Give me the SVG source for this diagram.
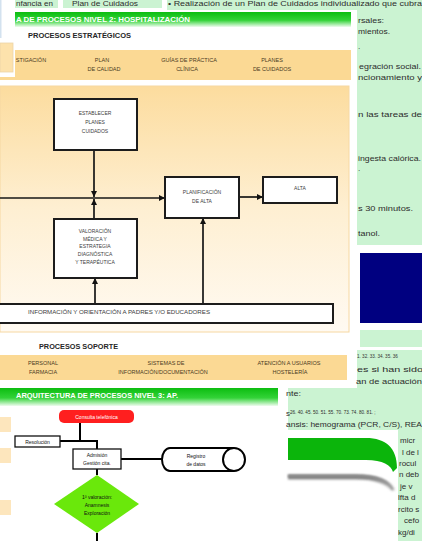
<svg xmlns="http://www.w3.org/2000/svg" width="422" height="541" viewBox="0 0 422 541">
<defs>
  <linearGradient id="hdr" x1="0" y1="0" x2="0" y2="1">
    <stop offset="0" stop-color="#0cbd10"/>
    <stop offset="0.55" stop-color="#33d338"/>
    <stop offset="1" stop-color="#effcef"/>
  </linearGradient>
  <linearGradient id="panel" x1="0" y1="0" x2="0" y2="1">
    <stop offset="0" stop-color="#fcdc9e"/>
    <stop offset="0.5" stop-color="#feefd2"/>
    <stop offset="1" stop-color="#fffaf2"/>
  </linearGradient>
  <linearGradient id="shade" x1="0" y1="0" x2="0" y2="1">
    <stop offset="0" stop-color="#7d7d7d"/>
    <stop offset="1" stop-color="#ffffff"/>
  </linearGradient>
  <filter id="soft" x="-10%" y="-50%" width="120%" height="200%">
    <feGaussianBlur stdDeviation="1.2"/>
  </filter>
  <marker id="ah" viewBox="0 0 8 8" refX="8" refY="4" markerWidth="6" markerHeight="6" orient="auto" markerUnits="userSpaceOnUse">
    <path d="M0,0 L8,4 L0,8 Z" fill="#111"/>
  </marker>
  <style>
    .sans{font-family:"Liberation Sans",Arial,sans-serif}
    .col{font-family:"Liberation Sans",Arial,sans-serif;font-size:8px;fill:#2c2c2c}
    .mint{fill:#cbf3d2}
    .band{fill:#fbd994}
    .box{fill:#fff;stroke:#1c1c1c;stroke-width:2}
    .lbl{font-family:"Liberation Sans",Arial,sans-serif;font-size:5px;fill:#3c3c3c;text-anchor:middle}
    .blbl{font-family:"Liberation Sans",Arial,sans-serif;font-size:5.5px;fill:#4a3a1e;text-anchor:middle}
    .wire{stroke:#161616;stroke-width:1.7;fill:none}
    .fwire{stroke:#000;stroke-width:2;fill:none}
    .fbox{fill:#fff;stroke:#111;stroke-width:1.3}
    .flbl{font-family:"Liberation Sans",Arial,sans-serif;font-size:5px;fill:#111;text-anchor:middle}
    .head{font-family:"Liberation Sans",Arial,sans-serif;font-weight:bold;fill:#fff}
  </style>
</defs>

<!-- page background and mint text areas -->
<rect x="0" y="0" width="422" height="541" fill="#fff"/>
<rect class="mint" x="15" y="0" width="43" height="8"/>
<rect class="mint" x="63" y="0" width="99" height="8"/>
<rect class="mint" x="167" y="0" width="255" height="10"/>
<rect class="mint" x="357" y="0" width="65" height="245"/>
<rect x="360" y="253" width="62" height="70" fill="#000080"/>
<rect class="mint" x="360" y="330" width="62" height="17"/>
<path class="mint" d="M357,350 H422 V541 H288 V388 H357 Z"/>

<!-- top row of table cells -->
<g id="top-row">
  <text class="col" x="16" y="6">nfancia en</text>
  <text class="col" x="72" y="6" textLength="66" lengthAdjust="spacingAndGlyphs">Plan de Cuidados</text>
  <text class="col" x="168" y="6" textLength="254" lengthAdjust="spacingAndGlyphs">• Realización de un Plan de Cuidados individualizado que cubra</text>
</g>

<!-- right text column -->
<g id="right-column">
  <text class="col" x="358" y="23" textLength="26" lengthAdjust="spacingAndGlyphs">rsales:</text>
  <text class="col" x="358" y="34" textLength="32" lengthAdjust="spacingAndGlyphs">mientos.</text>
  <text class="col" x="358" y="49">.</text>
  <text class="col" x="359" y="69" textLength="62" lengthAdjust="spacingAndGlyphs">egración social.</text>
  <text class="col" x="358" y="80" textLength="64" lengthAdjust="spacingAndGlyphs">ncionamiento y</text>
  <text class="col" x="358" y="117" textLength="64" lengthAdjust="spacingAndGlyphs">n las tareas de</text>
  <text class="col" x="358" y="161" textLength="63" lengthAdjust="spacingAndGlyphs">ingesta calórica.</text>
  <text class="col" x="358" y="171" font-size="6">.</text>
  <text class="col" x="358" y="211" textLength="55" lengthAdjust="spacingAndGlyphs">s 30 minutos.</text>
  <text class="col" x="358" y="236" textLength="22" lengthAdjust="spacingAndGlyphs">tanol.</text>
  <text class="sans" x="357" y="358" font-size="4.6" fill="#333">1. 32. 33. 34. 35. 36</text>
  <text class="col" x="357" y="372" textLength="66" lengthAdjust="spacingAndGlyphs">es si han sido</text>
  <text class="col" x="356" y="384" textLength="66" lengthAdjust="spacingAndGlyphs">an de actuación</text>
  <text class="col" x="286" y="396" textLength="15" lengthAdjust="spacingAndGlyphs">nte:</text>
  <text class="col" x="286" y="416">s<tspan font-size="4.6" dy="-2.5">26. 40. 45. 50. 51. 55. 70. 73. 74. 80. 81. ;</tspan></text>
  <text class="col" x="286" y="427" textLength="136" lengthAdjust="spacingAndGlyphs">ansis: hemograma (PCR, C/S), REA</text>
  <text class="col" x="400" y="443">micr</text>
  <text class="col" x="402" y="455">l de l</text>
  <text class="col" x="399" y="466">rocul</text>
  <text class="col" x="399" y="477">n  deb</text>
  <text class="col" x="400" y="489">je  v</text>
  <text class="col" x="398" y="500">lfta d</text>
  <text class="col" x="398" y="512">rcito s</text>
  <text class="col" x="404" y="523">cefo</text>
  <text class="col" x="398" y="535">kg/di</text>
</g>

<!-- level 2 process map -->
<g id="level2-frame">
  <rect x="0" y="12" width="351" height="15" fill="url(#hdr)"/>
  <text class="head" x="16" y="22" font-size="7" textLength="174" lengthAdjust="spacingAndGlyphs">A DE PROCESOS NIVEL 2: HOSPITALIZACIÓN</text>
  <text class="sans" x="28" y="38" font-size="7" font-weight="bold" fill="#262626" textLength="103" lengthAdjust="spacingAndGlyphs">PROCESOS ESTRATÉGICOS</text>
  <rect class="band" x="0" y="50" width="351" height="30"/>
  <text class="blbl" x="31" y="62">STIGACIÓN</text>
  <text class="blbl" x="102" y="62">PLAN</text>
  <text class="blbl" x="104" y="71">DE CALIDAD</text>
  <text class="blbl" x="189" y="62">GUÍAS DE PRÁCTICA</text>
  <text class="blbl" x="187" y="71">CLÍNICA</text>
  <text class="blbl" x="272" y="62">PLANES</text>
  <text class="blbl" x="272" y="71">DE CUIDADOS</text>
  <rect x="0" y="86" width="349" height="246" fill="url(#panel)" stroke="#f6d8a2" stroke-width="1"/>
  <text class="sans" x="39" y="349" font-size="7" font-weight="bold" fill="#262626" textLength="79" lengthAdjust="spacingAndGlyphs">PROCESOS SOPORTE</text>
  <rect class="band" x="0" y="355" width="347" height="25"/>
  <text class="blbl" x="43" y="365">PERSONAL</text>
  <text class="blbl" x="43" y="374">FARMACIA</text>
  <text class="blbl" x="166" y="365">SISTEMAS DE</text>
  <text class="blbl" x="163" y="374">INFORMACIÓN/DOCUMENTACIÓN</text>
  <text class="blbl" x="289" y="365">ATENCIÓN A USUARIOS</text>
  <text class="blbl" x="290" y="374">HOSTELERÍA</text>
</g>

<g id="connectors-level2">
  <path class="wire" d="M0,198 H165" marker-end="url(#ah)"/>
  <path class="wire" d="M94,150 V197" marker-end="url(#ah)"/>
  <path class="wire" d="M94,219 V199" marker-end="url(#ah)"/>
  <path class="wire" d="M239,197 H263" marker-end="url(#ah)"/>
  <path class="wire" d="M95,304 V278" marker-end="url(#ah)"/>
  <path class="wire" d="M203,304 V218" marker-end="url(#ah)"/>
</g>

<g id="establecer-planes">
  <rect class="box" x="54" y="99" width="83" height="51"/>
  <text class="lbl" x="95" y="115">ESTABLECER</text>
  <text class="lbl" x="95" y="124">PLANES</text>
  <text class="lbl" x="95" y="133">CUIDADOS</text>
</g>
<g id="valoracion">
  <rect class="box" x="54" y="219" width="83" height="59"/>
  <text class="lbl" x="95" y="233">VALORACIÓN</text>
  <text class="lbl" x="95" y="240.5">MÉDICA Y</text>
  <text class="lbl" x="95" y="248">ESTRATEGIA</text>
  <text class="lbl" x="95" y="255.5">DIAGNÓSTICA</text>
  <text class="lbl" x="95" y="264">Y TERAPÉUTICA</text>
</g>
<g id="planificacion">
  <rect class="box" x="165" y="177" width="74" height="41"/>
  <text class="lbl" x="202" y="194">PLANIFICACIÓN</text>
  <text class="lbl" x="202" y="202.5">DE ALTA</text>
</g>
<g id="alta">
  <rect class="box" x="263" y="177" width="74" height="26"/>
  <text class="lbl" x="300" y="190">ALTA</text>
</g>
<g id="informacion">
  <rect class="box" x="-2" y="304" width="335" height="19"/>
  <text class="sans" x="28" y="314" font-size="5" fill="#3c3c3c" textLength="182" lengthAdjust="spacingAndGlyphs">INFORMACIÓN Y ORIENTACIÓN A PADRES Y/O EDUCADORES</text>
</g>

<!-- left margin fragment -->
<g id="margin-top">
  <rect x="0" y="0" width="15" height="77" fill="#fff"/>
  <rect x="0" y="0" width="1.5" height="38" fill="#d3e2ef"/>
  <rect x="0" y="43" width="13" height="29" fill="#fde2ac" stroke="#ecd4a8" stroke-width="0.8"/>
</g>

<!-- level 3 flow -->
<g id="level3-frame">
  <rect x="0" y="388" width="278" height="18" fill="url(#hdr)"/>
  <text class="head" x="16" y="398" font-size="6.5" textLength="162" lengthAdjust="spacingAndGlyphs">ARQUITECTURA DE PROCESOS NIVEL 3: AP.</text>
  <rect x="0" y="417" width="11" height="15" fill="#fde6bd"/>
  <rect x="0" y="448" width="11" height="15" fill="#fde6bd"/>
  <rect x="0" y="500" width="11" height="15" fill="#fde6bd"/>
</g>

<g id="connectors-level3">
  <path class="fwire" d="M80,423 V441"/>
  <path class="fwire" d="M60,441 H97 V449"/>
  <path class="fwire" stroke-width="1.5" d="M121,459 H163"/>
  <path class="fwire" d="M97,469 V475"/>
  <path class="fwire" d="M97,533 V541"/>
</g>

<g id="consulta">
  <rect x="59" y="410" width="75" height="13" rx="5" fill="#ff1f1f"/>
  <text class="flbl" x="96.5" y="418.5" style="fill:#fff">Consulta telefónica</text>
</g>
<g id="resolucion">
  <rect class="fbox" x="15" y="436" width="45" height="11"/>
  <text class="flbl" x="37.5" y="443.5">Resolución</text>
</g>
<g id="admision">
  <rect class="fbox" x="73" y="449" width="48" height="20"/>
  <text class="flbl" x="97" y="456.5">Admisión</text>
  <text class="flbl" x="97" y="465">Gestión cita<tspan fill="#e00000">.</tspan></text>
</g>
<g id="registro">
  <path d="M170,448 H234 M234,471 H170 A8,11.5 0 0 1 170,448" fill="#fff" stroke="#000" stroke-width="2"/>
  <ellipse cx="234" cy="459.5" rx="11" ry="11.5" fill="#fff" stroke="#000" stroke-width="2"/>
  <text class="flbl" x="196" y="457.5">Registro</text>
  <text class="flbl" x="196" y="466">de datos</text>
</g>
<g id="valoracion-ap">
  <polygon points="97,475 139,504 97,533 54,504" fill="#6ae80b"/>
  <text class="flbl" x="97" y="499">1ª valoración:</text>
  <text class="flbl" x="97" y="507">Anamnesis</text>
  <text class="flbl" x="97" y="515">Exploración</text>
</g>

<!-- ribbon -->
<g id="ribbon">
  <rect x="288" y="430" width="110" height="111" fill="#fff"/>
  <path d="M288,438 H366 C386,438 397,448 397,468 L393,472 C391,465 383,460 366,460 H288 Z" fill="#0bb50b"/>
  <path d="M288,477 H356 C376,477 389,482 394,492" fill="none" stroke="url(#shade)" stroke-width="5" filter="url(#soft)"/>
  <path d="M288,476 H356 C375,476 388,481 393,490" fill="none" stroke="#8c8c8c" stroke-width="2" filter="url(#soft)"/>
</g>
</svg>
